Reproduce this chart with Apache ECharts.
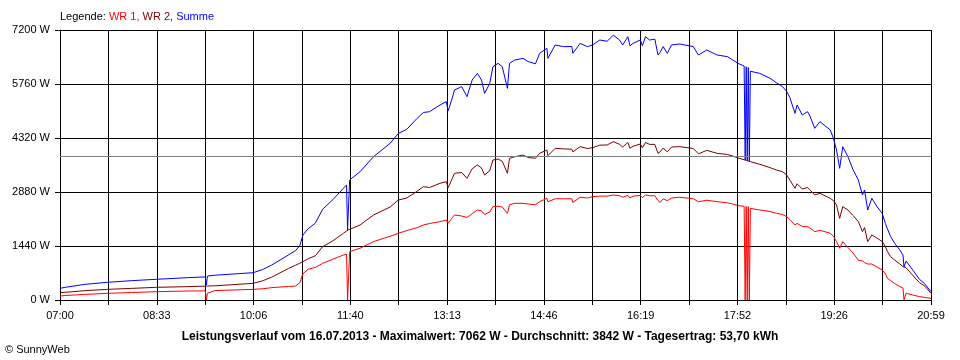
<!DOCTYPE html>
<html>
<head>
<meta charset="utf-8">
<script src="https://cdn.jsdelivr.net/npm/echarts@6/dist/echarts.min.js"></script>
<style>html,body{margin:0;padding:0;background:#fff}#c{width:960px;height:360px}</style>
</head>
<body>
<div id="c"></div>
<script>
const times = ["07:00","07:05","07:24","07:46","08:09","08:33","09:03","09:20","09:21","09:22","09:29",
"10:06","10:15","10:24","10:40","10:47","10:51","10:54","10:59","11:06","11:13","11:23","11:33","11:36","11:37","11:38","11:39",
"11:49","12:02","12:18","12:26","12:34","12:44","12:50","12:56","13:06","13:12","13:14","13:18","13:20","13:27","13:32","13:37",
"13:42","13:46","13:49","13:54","13:57","14:02","14:06","14:11","14:13","14:18","14:26","14:31","14:38","14:42","14:49","14:50",
"14:57","15:05","15:13","15:14","15:21","15:28","15:33","15:40","15:47","15:53","15:59","16:02","16:07","16:09","16:12","16:19",
"16:21","16:24","16:28","16:33","16:36","16:38","16:41","16:45","16:49","16:57","17:10","17:15","17:23","17:33","17:43","17:48",
"17:53","17:59","18:00","18:01","18:02","18:03","18:04","18:05","18:14","18:24","18:30","18:36","18:40","18:43","18:48","18:50",
"18:55","19:00","19:02","19:07","19:12","19:22","19:25","19:28","19:31","19:34","19:39","19:44","19:49","19:53","19:55","19:58",
"20:02","20:07","20:12","20:15","20:17","20:20","20:24","20:29","20:32","20:33","20:35","20:42","20:48","20:53","20:59"];
const wr1 = [107,120,150,178,200,222,240,245,0,180,250,
284,300,330,360,373,460,700,820,870,978,1090,1200,1220,0,0,1289,
1380,1556,1700,1778,1850,1930,2000,2040,2089,2133,2050,2200,2267,2240,2200,2300,
2400,2380,2280,2350,2489,2500,2480,2311,2540,2578,2578,2560,2540,2622,2711,2620,
2700,2700,2700,2600,2740,2720,2756,2770,2770,2800,2780,2740,2790,2720,2770,2790,
2730,2800,2780,2780,2650,2600,2700,2650,2720,2740,2700,2620,2660,2622,2590,2560,
2516,2500,0,2495,0,2490,0,2444,2400,2360,2311,2280,2222,2150,2000,2044,
1960,1956,1930,1822,1860,1778,1700,1556,1378,1556,1400,1250,1060,1040,1000,960,
960,880,800,700,578,520,440,356,320,0,178,130,90,70,44];
const wr2 = [196,205,249,284,310,338,356,370,373,373,378,
444,510,610,840,930,980,1022,1100,1180,1422,1580,1780,1840,1860,1870,1900,
2000,2267,2480,2667,2720,2900,3022,3000,3111,3156,3000,3250,3378,3400,3244,3500,
3600,3520,3333,3450,3733,3760,3700,3378,3778,3820,3867,3800,3780,3911,4000,3850,
4044,4030,4020,3950,4089,4040,4060,4130,4133,4222,4150,4080,4200,4050,4100,4160,
4060,4200,4150,4150,3911,3950,4050,3950,4080,4089,4040,3900,3990,3911,3880,3840,
3790,3740,3730,3725,3715,3705,3695,3689,3620,3530,3467,3420,3333,3200,2978,3100,
2960,3000,2950,2800,2844,2711,2650,2533,2178,2489,2400,2250,2089,1822,1930,1556,
1733,1650,1560,1422,1300,1156,1067,960,889,870,860,640,460,370,180];
const summe = [312,338,418,472,516,552,596,615,400,640,660,
728,810,933,1200,1320,1450,1733,1900,2050,2420,2680,2980,3067,1867,1870,3200,
3420,3822,4178,4444,4550,4844,5000,5022,5200,5290,5050,5400,5600,5689,5422,5867,
6044,5867,5511,5778,6222,6311,6222,5644,6311,6400,6444,6356,6300,6578,6711,6444,
6800,6756,6760,6578,6844,6756,6800,6933,6900,7062,6933,6800,7022,6780,6844,6933,
6780,7022,6933,6956,6533,6600,6756,6578,6800,6827,6756,6533,6667,6533,6489,6400,
6311,6240,3730,6220,3715,6200,3695,6100,6044,5911,5796,5689,5560,5400,4978,5200,
4933,5022,4933,4578,4756,4533,4311,4000,3511,4089,3822,3467,3200,2800,2933,2400,
2711,2489,2311,2044,1900,1700,1511,1333,1200,880,1040,780,550,430,222];
const xTickLabels = ["07:00","08:33","10:06","11:40","13:13","14:46","16:19","17:52","19:26","20:59"];
const yMax = 7200, yStep = 1440, average = 3842;
const titleText = "Leistungsverlauf vom 16.07.2013 - Maximalwert: 7062 W - Durchschnitt: 3842 W - Tagesertrag: 53,70 kWh";

function toMin(t){ const p = t.split(':').map(Number); return (p[0]-7)*60 + p[1]; }
const xMax = toMin(xTickLabels[xTickLabels.length-1]);
const xStep = xMax / 18;
const F = 'Liberation Sans, Arial, sans-serif';

const chart = echarts.init(document.getElementById('c'), null, {renderer:'canvas'});
function mk(name, arr, color, extra){
  return Object.assign({
    name, type:'line', data: times.map((t,i)=>[toMin(t), arr[i]]),
    showSymbol:false, symbol:'none', animation:false, silent:true,
    lineStyle:{color, width:1}, itemStyle:{color}, emphasis:{disabled:true}
  }, extra||{});
}
chart.setOption({
  animation:false,
  backgroundColor:'#fff',
  grid:{left:60, right:29, top:30, bottom:60, containLabel:false},
  xAxis:{type:'value', min:0, max:xMax, interval:xStep,
    axisLine:{show:true, lineStyle:{color:'#000', width:1}},
    axisTick:{show:true, length:5, lineStyle:{color:'#000'}},
    splitLine:{show:true, lineStyle:{color:'#000', width:1}},
    axisLabel:{color:'#000', fontFamily:F, fontSize:11, margin:10, showMaxLabel:true, showMinLabel:true,
      formatter:function(v){ const k = Math.round(v/xStep); return k%2===0 ? (xTickLabels[k/2]||'') : ''; }}
  },
  yAxis:{type:'value', min:0, max:yMax, interval:yStep,
    axisLine:{show:true, lineStyle:{color:'#000', width:1}},
    axisTick:{show:true, length:5, lineStyle:{color:'#000'}},
    splitLine:{show:true, lineStyle:{color:'#000', width:1}},
    axisLabel:{color:'#000', fontFamily:F, fontSize:11, margin:10, formatter:function(v){return v+' W';}}
  },
  series:[
    mk('WR 1', wr1, '#ff0000', {markLine:{silent:true, symbol:'none', animation:false,
      label:{show:false}, lineStyle:{color:'#808080', type:'solid', width:1}, data:[{yAxis:average}]}}),
    mk('WR 2', wr2, '#800000'),
    mk('Summe', summe, '#0000ff')
  ],
  graphic:[
    {type:'text', left:60, top:11, style:{
      text:'{a|Legende: }{r|WR 1, }{d|WR 2, }{b|Summe}',
      rich:{a:{fill:'#000',fontFamily:F,fontSize:11},r:{fill:'#ff0000',fontFamily:F,fontSize:11},
            d:{fill:'#800000',fontFamily:F,fontSize:11},b:{fill:'#0000ff',fontFamily:F,fontSize:11}}}},
    {type:'text', x:480, y:337, style:{text:titleText, fill:'#000', fontFamily:F, fontSize:12, fontWeight:'bold',
      textAlign:'center', textVerticalAlign:'middle'}},
    {type:'text', left:5, top:344, style:{text:'© SunnyWeb', fill:'#000', fontFamily:F, fontSize:11}}
  ]
});
</script>
</body>
</html>
